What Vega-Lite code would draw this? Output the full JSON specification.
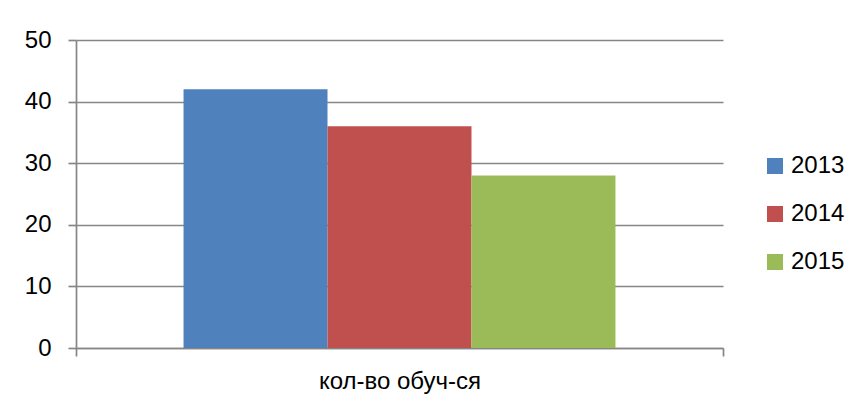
{
  "$schema": "https://vega.github.io/schema/vega-lite/v6.json",
  "width": 647,
  "height": 308,
  "autosize": {"type": "none"},
  "padding": {"left": 76, "top": 40, "right": 136, "bottom": 59},
  "background": "white",
  "data": {
    "values": [
      {"cat": "кол-во обуч-ся", "year": "2013", "value": 42},
      {"cat": "кол-во обуч-ся", "year": "2014", "value": 36},
      {"cat": "кол-во обуч-ся", "year": "2015", "value": 28}
    ]
  },
  "mark": {"type": "bar"},
  "encoding": {
    "x": {
      "field": "cat",
      "type": "nominal",
      "scale": {"paddingInner": 0, "paddingOuter": 0},
      "axis": {
        "title": null,
        "labelAngle": 0,
        "tickBand": "extent",
        "tickSize": 8,
        "tickColor": "#868686",
        "tickWidth": 1.7,
        "domainColor": "#868686",
        "domainWidth": 1.7,
        "labelFontSize": 24,
        "labelFont": "Liberation Sans",
        "labelColor": "#000000",
        "labelPadding": 13
      }
    },
    "xOffset": {
      "field": "year",
      "type": "nominal",
      "scale": {"paddingInner": 0, "paddingOuter": 0.747}
    },
    "y": {
      "field": "value",
      "type": "quantitative",
      "scale": {"domain": [0, 50], "nice": false},
      "axis": {
        "title": null,
        "values": [0, 10, 20, 30, 40, 50],
        "tickSize": 8,
        "tickColor": "#868686",
        "tickWidth": 1.7,
        "domainColor": "#868686",
        "domainWidth": 1.7,
        "grid": true,
        "gridColor": "#868686",
        "gridWidth": 1.7,
        "gridOpacity": 1,
        "labelFontSize": 24,
        "labelFont": "Liberation Sans",
        "labelColor": "#000000",
        "labelPadding": 17
      }
    },
    "color": {
      "field": "year",
      "type": "nominal",
      "scale": {"range": ["#4F81BD", "#C0504D", "#9BBB59"]},
      "legend": {
        "title": null,
        "orient": "none",
        "legendX": 687,
        "legendY": 114,
        "padding": 0,
        "symbolType": "square",
        "symbolSize": 256,
        "symbolStrokeWidth": 0,
        "labelOffset": 4,
        "labelFontSize": 24,
        "labelFont": "Liberation Sans",
        "labelColor": "#000000",
        "rowPadding": 24
      }
    }
  },
  "config": {"view": {"stroke": null}}
}
